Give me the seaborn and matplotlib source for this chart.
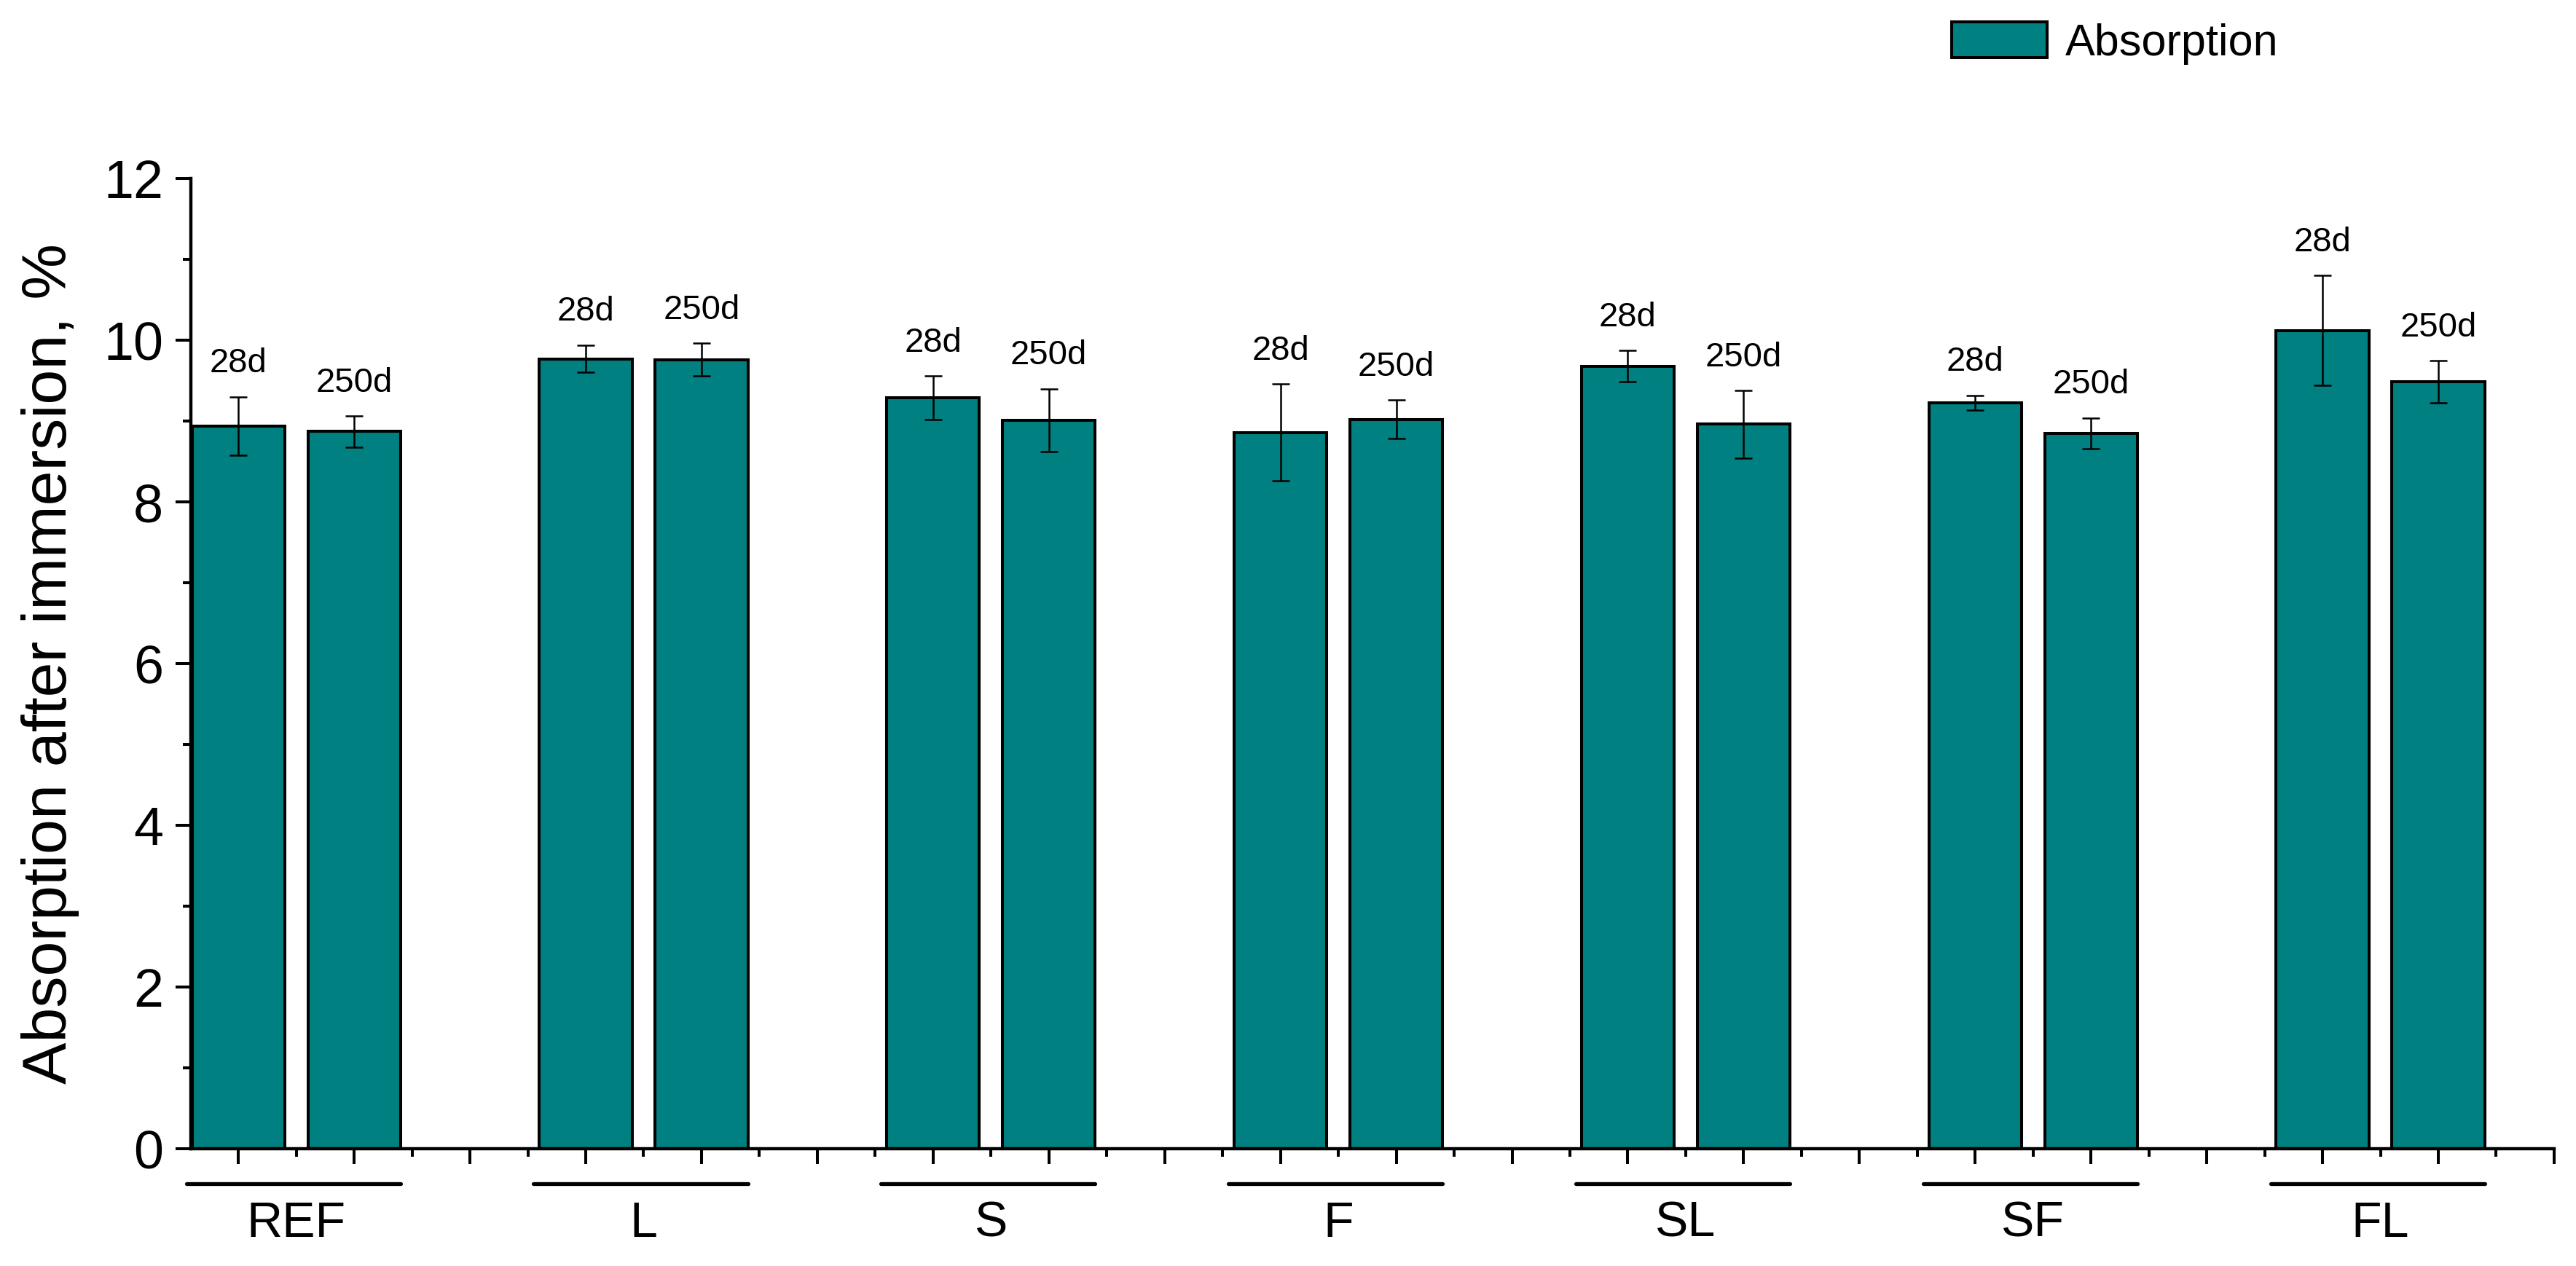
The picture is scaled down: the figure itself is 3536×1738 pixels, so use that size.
import pandas as pd
import matplotlib.pyplot as plt
import seaborn as sns
from matplotlib.patches import Patch
from matplotlib.ticker import MultipleLocator

# Data
groups = ['REF', 'L', 'S', 'F', 'SL', 'SF', 'FL']
ages = ['28d', '250d']
abs_28d = [8.94, 9.77, 9.29, 8.86, 9.68, 9.23, 10.12]
abs_250d = [8.87, 9.76, 9.01, 9.02, 8.96, 8.85, 9.49]
err_28d = [0.36, 0.17, 0.27, 0.60, 0.19, 0.09, 0.68]
err_250d = [0.19, 0.20, 0.39, 0.24, 0.42, 0.19, 0.26]

teal = '#008080'

# long table: each group takes two slots plus one empty slot
rows = []
for i, g in enumerate(groups):
    rows.append({'group': g, 'age': ages[0], 'pos': 3 * i + 1, 'value': abs_28d[i], 'err': err_28d[i]})
    rows.append({'group': g, 'age': ages[1], 'pos': 3 * i + 2, 'value': abs_250d[i], 'err': err_250d[i]})
df = pd.DataFrame(rows)

sns.set_style('ticks')
plt.rcParams['font.family'] = ['Liberation Sans', 'DejaVu Sans']
plt.rcParams.update({'text.color': 'black', 'axes.labelcolor': 'black',
                     'xtick.color': 'black', 'ytick.color': 'black',
                     'axes.edgecolor': 'black'})

fig = plt.figure(figsize=(17.68, 8.69), dpi=200)
ax = fig.add_axes([0.0741, 0.0926, 0.9174, 0.7664])

sns.barplot(data=df, x='pos', y='value', native_scale=True, width=0.8,
            color=teal, saturation=1, edgecolor='black', linewidth=1.45,
            errorbar=None, ax=ax)
ax.errorbar(df['pos'], df['value'], yerr=df['err'], fmt='none',
            ecolor='black', elinewidth=0.9, capsize=4.3, capthick=0.9)

# age labels above error bars
for _, r in df.iterrows():
    ax.text(r['pos'], r['value'] + r['err'] + 0.3, r['age'], ha='center',
            va='baseline', fontsize=17)

ax.set_xlim(0.59, 21)
ax.set_ylim(0, 12)
ax.xaxis.set_major_locator(MultipleLocator(1))
ax.xaxis.set_minor_locator(MultipleLocator(0.5))
ax.yaxis.set_major_locator(MultipleLocator(2))
ax.yaxis.set_minor_locator(MultipleLocator(1))
ax.set_xticklabels([])
ax.set_xlabel('')
ax.tick_params(axis='both', which='major', length=7.6, width=1.45, direction='out')
ax.tick_params(axis='both', which='minor', length=4, width=1.45, direction='out')
ax.tick_params(axis='y', labelsize=26.5, pad=6)
ax.set_ylabel('Absorption after immersion, %', fontsize=31, labelpad=12)

sns.despine(ax=ax)
for s in ['left', 'bottom']:
    ax.spines[s].set_linewidth(1.6)

# group underlines and names
trans = ax.get_xaxis_transform()
for i, g in enumerate(groups):
    p = 3 * i + 1
    ax.plot([p - 0.45, p + 1.4], [-0.036, -0.036], transform=trans, color='black',
            lw=1.9, solid_capstyle='round', clip_on=False)
    ax.text(p + 0.5, -0.077, g, transform=trans, ha='center', va='center', fontsize=24.5)

fig.legend(handles=[Patch(facecolor=teal, edgecolor='black', linewidth=1.45)],
           labels=['Absorption'], loc='upper left', bbox_to_anchor=(0.7576, 0.983),
           frameon=False, borderpad=0, borderaxespad=0, handlelength=2.15,
           handleheight=0.88, handletextpad=0.4, fontsize=22)

fig.savefig('out.png', dpi=200, facecolor='white')
